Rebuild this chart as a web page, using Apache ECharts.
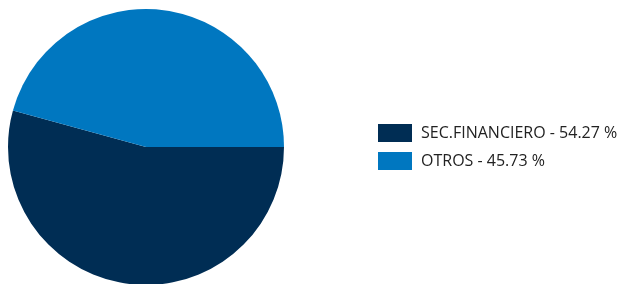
<!DOCTYPE html>
<html>
<head>
<meta charset="utf-8">
<script src="https://cdn.jsdelivr.net/npm/echarts@6/dist/echarts.min.js"></script>
<style>
  html, body { margin: 0; padding: 0; background: #fff; }
  #chart { width: 625px; height: 284px; }
</style>
</head>
<body>
<div id="chart"></div>
<script>
const categories = ['SEC.FINANCIERO', 'OTROS'];
const shares = [54.27, 45.73];
const colors = ['#002d54', '#0077c0'];

const chart = echarts.init(document.getElementById('chart'));

chart.setOption({
  animation: false,
  color: colors,
  legend: {
    orient: 'vertical',
    left: 378,
    top: 124,
    padding: 0,
    icon: 'rect',
    itemWidth: 34,
    itemHeight: 18,
    itemGap: 10,
    textStyle: { fontFamily: 'Open Sans', fontSize: 16, color: '#222', padding: [0, 0, 0, 4] },
    formatter: (name) => {
      const i = categories.indexOf(name);
      return name + ' - ' + shares[i].toFixed(2) + ' %';
    },
    data: categories
  },
  series: [{
    type: 'pie',
    center: [146, 147],
    radius: 138,
    startAngle: 0,
    clockwise: true,
    label: { show: false },
    labelLine: { show: false },
    emphasis: { disabled: true },
    itemStyle: { borderWidth: 0 },
    data: categories.map((c, i) => ({ name: c, value: shares[i] }))
  }]
});
</script>
</body>
</html>
